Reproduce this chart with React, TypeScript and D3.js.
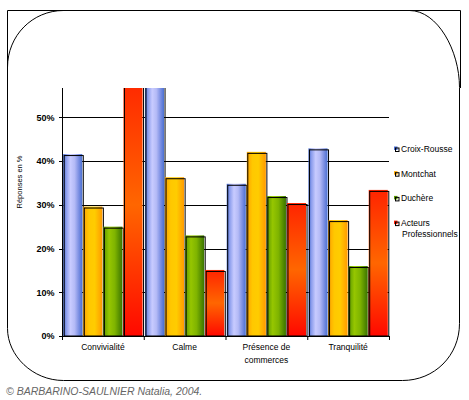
import React from "react";
import * as d3 from "d3";

const categories = ["Convivialité", "Calme", "Présence de commerces", "Tranquilité"];
const categoryLines = [["Convivialité"], ["Calme"], ["Présence de", "commerces"], ["Tranquilité"]];
const seriesNames = ["Croix-Rousse", "Montchat", "Duchère", "Acteurs Professionnels"];
const legendLines = [["Croix-Rousse"], ["Montchat"], ["Duchère"], ["Acteurs", "Professionnels"]];
const croixRousse = [41.6, 58.5, 34.8, 42.9];
const montchat = [29.6, 36.3, 42.1, 26.5];
const duchere = [25.0, 23.0, 32.0, 16.0];
const acteurs = [60.0, 15.1, 30.4, 33.4];
const yTicks = [0, 10, 20, 30, 40, 50];
const yTitle = "Réponses en %";
const credit = "© BARBARINO-SAULNIER Natalia, 2004.";

const seriesValues = [croixRousse, montchat, duchere, acteurs];
const gradIds = ["gBlue", "gOrange", "gGreen", "gRed"];
const legendSolid = ["#4a6ed4", "#ffa800", "#5a9a00", "#ff1a00"];

const W = 469, H = 400;
const left = 62, right = 389, top = 88, bottom = 336;

export default function App() {
  const x0 = d3.scaleBand<string>().domain(categories).range([left, right]).paddingInner(0).paddingOuter(0);
  const x1 = d3.scaleBand<string>().domain(seriesNames).range([0, x0.bandwidth()]).paddingInner(0.05).paddingOuter(0.06);
  const y = d3.scaleLinear().domain([0, 56.7]).range([bottom, top]);
  const font = "'Liberation Sans', Arial, sans-serif";
  const boundaries = [...categories.map((c) => x0(c) as number), right];

  const frame = (() => {
    const l = 7.5, t = 10.5, r = 459.5, b = 380.5;
    const p = d3.path();
    p.moveTo(l + 56, t);
    p.lineTo(r - 50, t);
    p.bezierCurveTo(r - 22, t, r, t + 40, r, t + 77);
    p.lineTo(r, b - 57);
    p.bezierCurveTo(r, b - 25, r - 25, b, r - 57, b);
    p.lineTo(l + 56, b);
    p.bezierCurveTo(l + 25, b, l, b - 25, l, b - 52);
    p.lineTo(l, t + 57);
    p.bezierCurveTo(l, t + 25, l + 25, t, l + 56, t);
    p.closePath();
    return p.toString();
  })();

  return (
    <svg width={W} height={H} style={{ position: "absolute", left: 0, top: 0, background: "#fff" }}>
      <defs>
        <linearGradient id="gBlue" x1="0" x2="1" y1="0" y2="0">
          <stop offset="0" stopColor="#4066cc" />
          <stop offset="0.15" stopColor="#8a9cec" />
          <stop offset="0.38" stopColor="#c8cbff" />
          <stop offset="0.6" stopColor="#b4baf6" />
          <stop offset="0.82" stopColor="#7a8ee2" />
          <stop offset="1" stopColor="#4a70d2" />
        </linearGradient>
        <linearGradient id="gOrange" x1="0" x2="1" y1="0" y2="0">
          <stop offset="0" stopColor="#ffa200" />
          <stop offset="0.3" stopColor="#ffc800" />
          <stop offset="0.6" stopColor="#ffcc00" />
          <stop offset="1" stopColor="#ff9a00" />
        </linearGradient>
        <linearGradient id="gGreen" x1="0" x2="1" y1="0" y2="0">
          <stop offset="0" stopColor="#5a9800" />
          <stop offset="0.3" stopColor="#96c600" />
          <stop offset="0.6" stopColor="#7fb400" />
          <stop offset="1" stopColor="#3a7400" />
        </linearGradient>
        <linearGradient id="gRed" x1="0" x2="0" y1="0" y2="1">
          <stop offset="0" stopColor="#ff2400" />
          <stop offset="0.5" stopColor="#ff6600" />
          <stop offset="1" stopColor="#ff0800" />
        </linearGradient>
        <clipPath id="plotClip">
          <rect x={left - 2} y={top} width={right - left + 6} height={bottom - top + 2} />
        </clipPath>
      </defs>

      {/* frame */}
      <path d={frame} fill="none" stroke="#000" strokeWidth={1} />
      <path d={`M7.5,70 V10.5 H460.5 V88`} fill="none" stroke="#000" strokeWidth={1} />

      {/* gridlines */}
      {yTicks.map((t) => (
        <line key={t} x1={left - 3} x2={right} y1={Math.round(y(t)) + 0.5} y2={Math.round(y(t)) + 0.5} stroke="#000" strokeWidth={1} />
      ))}

      {/* bars */}
      <g clipPath="url(#plotClip)">
        {categories.map((c, ci) => (
          <g key={c}>
            {seriesNames.map((s, si) => {
              const v = seriesValues[si][ci];
              const bx = (x0(c) as number) + (x1(s) as number);
              const bw = x1.bandwidth();
              const by = y(v);
              return (
                <g key={s}>
                  <rect x={bx} y={by} width={bw} height={bottom - by} fill={`url(#${gradIds[si]})`} />
                  <rect x={bx + 1} y={by + 1.5} width={bw} height={bottom - by - 1.5} fill="none" stroke="#000" strokeWidth={1} />
                </g>
              );
            })}
          </g>
        ))}
      </g>

      {/* axes */}
      <line x1={left + 0.5} x2={left + 0.5} y1={top} y2={bottom + 1} stroke="#000" />
      <line x1={left - 3} x2={right} y1={bottom + 0.5} y2={bottom + 0.5} stroke="#000" />
      {boundaries.map((bx, i) => (
        <line key={i} x1={bx + 0.5} x2={bx + 0.5} y1={bottom} y2={bottom + 4} stroke="#000" />
      ))}

      {/* y tick labels */}
      {yTicks.map((t) => (
        <text key={t} x={54.5} y={y(t) + 3.3} textAnchor="end" fontFamily={font} fontWeight="bold" fontSize={9}>
          {`${t}%`}
        </text>
      ))}

      {/* y title */}
      <text transform={`translate(21.5,182) rotate(-90)`} textAnchor="middle" fontFamily={font} fontSize={7.5}>
        {yTitle}
      </text>

      {/* category labels */}
      {categories.map((c, ci) => (
        <text key={c} x={(x0(c) as number) + x0.bandwidth() / 2} y={350} textAnchor="middle" fontFamily={font} fontSize={8.5}>
          {categoryLines[ci].map((ln, li) => (
            <tspan key={li} x={(x0(c) as number) + x0.bandwidth() / 2} dy={li === 0 ? 0 : 12.7}>
              {ln}
            </tspan>
          ))}
        </text>
      ))}

      {/* legend */}
      {seriesNames.map((s, si) => {
        const ly = 152 + si * 24.7;
        return (
          <g key={s}>
            <rect x={394} y={ly - 5.5} width={3.5} height={3.5} fill={legendSolid[si]} />
            <rect x={395.5} y={ly - 4} width={3.5} height={3.5} fill="none" stroke="#000" strokeWidth={1} />
            <text x={401} y={ly} fontFamily={font} fontSize={8.5}>
              {legendLines[si].map((ln, li) => (
                <tspan key={li} x={li === 0 ? 401 : 402} dy={li === 0 ? 0 : 10.8}>
                  {ln}
                </tspan>
              ))}
            </text>
          </g>
        );
      })}

      {/* credit */}
      <text x={6} y={395} fontFamily={font} fontStyle="italic" fontSize={10.5} fill="#666">
        {credit}
      </text>
    </svg>
  );
}
